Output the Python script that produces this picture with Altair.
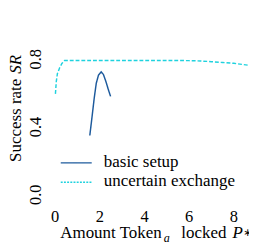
import altair as alt
import pandas as pd

basic_x = [1.55, 1.65, 1.75, 1.84, 1.94, 2.06, 2.16, 2.27, 2.38, 2.48]
basic_y = [0.35, 0.46, 0.573, 0.659, 0.707, 0.726, 0.71, 0.669, 0.621, 0.581]

unc_x = [0.01, 0.05, 0.1, 0.2, 0.3, 0.42, 1.0, 2.0, 3.0, 4.0, 5.0, 6.0, 6.5, 7.0, 7.5, 8.0, 8.7]
unc_y = [0.596, 0.67, 0.716, 0.75, 0.775, 0.793, 0.793, 0.793, 0.793, 0.793, 0.793, 0.792, 0.79, 0.786, 0.781, 0.776, 0.764]

series = ["basic setup", "uncertain exchange"]
colors = ["#1d5a9c", "#1fd2de"]

x_ticks = [0, 2, 4, 6, 8]
x_tick_labels = ["0", "2", "4", "6", "8"]
y_ticks = [0, 0.2, 0.4, 0.6, 0.8, 1.0]
y_label_vals = [0, 0.4, 0.8]
y_tick_labels = ["0.0", "0.4", "0.8"]

rows = []
for i, (x, y) in enumerate(zip(basic_x, basic_y)):
    rows.append({"x": x, "y": y, "s": series[0], "o": i})
for i, (x, y) in enumerate(zip(unc_x, unc_y)):
    rows.append({"x": x, "y": y, "s": series[1], "o": i})
df = pd.DataFrame(rows)

FONT = "Liberation Serif"
FS = 17.5
TFS = 17

xs = alt.Scale(domain=[-0.38, 8.68], nice=False, zero=False)
ys = alt.Scale(domain=[-0.04, 1.08], nice=False, zero=False)

lines = alt.Chart(df).mark_line(clip=True, strokeWidth=1.5).encode(
    x=alt.X("x:Q", scale=xs,
            axis=alt.Axis(values=x_ticks, title=None, labels=False, grid=False, tickSize=4)),
    y=alt.Y("y:Q", scale=ys,
            axis=alt.Axis(values=y_ticks, title=None, labels=False, grid=False, tickSize=4)),
    color=alt.Color("s:N", scale=alt.Scale(domain=series, range=colors), legend=None),
    strokeDash=alt.StrokeDash("s:N", scale=alt.Scale(domain=series, range=[[1, 0], [4, 2]]),
                              legend=None),
    order="o:Q",
)

xlab = alt.Chart(pd.DataFrame({"x": x_ticks, "t": x_tick_labels})).mark_text(
    font=FONT, fontSize=TFS, baseline="alphabetic", align="center", color="black"
).encode(x=alt.X("x:Q", scale=xs, axis=None), y=alt.value(217), text="t:N")

ylab = alt.Chart(pd.DataFrame({"y": y_label_vals, "t": y_tick_labels})).mark_text(
    font=FONT, fontSize=TFS, baseline="alphabetic", align="center", angle=270, color="black"
).encode(y=alt.Y("y:Q", scale=ys, axis=None), x=alt.value(-6), text="t:N")


def txt(s, x, y, size=FS, style="normal", align="left", angle=0, font=FONT):
    return alt.Chart(pd.DataFrame({"t": [s]})).mark_text(
        font=font, fontSize=size, fontStyle=style, baseline="alphabetic",
        align=align, angle=angle, color="black"
    ).encode(x=alt.value(x), y=alt.value(y), text="t:N")


# x title: Amount Token_a locked P_*
xt = [
    txt("Amount Token", 14, 234),
    txt("a", 121, 237.5, size=12.5, style="italic"),
    txt("locked", 139, 234),
    txt("P", 192, 234, style="italic"),
    txt("∗", 203, 231.5, size=11, font="DejaVu Sans"),
]

# y title: Success rate SR
yt = [
    txt("Success rate", -27, 155, align="left", angle=270),
    txt("SR", -27, 64, style="italic", align="left", angle=270),
]

# legend
leg = []
leg_y = [156, 176]
dashes = [[1, 0], [2, 1.3]]
for i, s in enumerate(series):
    leg.append(alt.Chart(pd.DataFrame({"s": [s]})).mark_rule(
        color=colors[i], strokeWidth=1.4, strokeDash=dashes[i]
    ).encode(x=alt.value(14.5), x2=alt.value(46.5), y=alt.value(leg_y[i])))
    leg.append(txt(s, 59, leg_y[i] + 4))

chart = alt.layer(lines, xlab, ylab, *xt, *yt, *leg).properties(
    width=209, height=196,
    autosize=alt.AutoSizeParams(type="none"),
    padding={"left": 40, "top": 0, "right": 0, "bottom": 44},
).configure_view(stroke=None).configure_axis(
    domainColor="black", tickColor="black", domainWidth=1.2, tickWidth=1.2,
)

chart.save("out.html", embed_options={"renderer": "svg", "actions": False})
